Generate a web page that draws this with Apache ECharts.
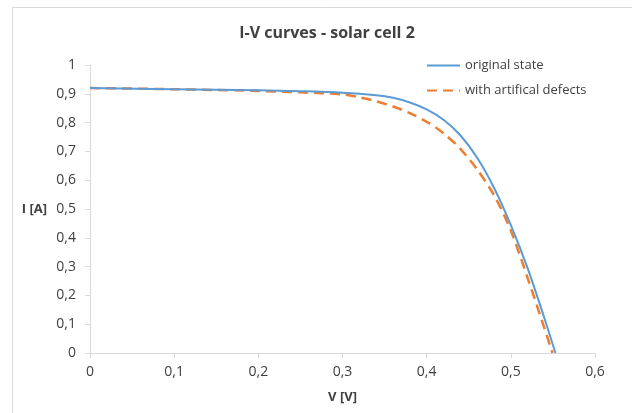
<!DOCTYPE html>
<html>
<head>
<meta charset="utf-8">
<script src="https://cdn.jsdelivr.net/npm/echarts@6/dist/echarts.min.js"></script>
<style>
  html, body { margin: 0; padding: 0; background: #fff; }
  #chart { width: 632px; height: 413px; }
</style>
</head>
<body>
<div id="chart"></div>
<script>
// voltage / current samples
const originalV = [0, 0.1, 0.2, 0.25, 0.3, 0.34, 0.36, 0.38, 0.4, 0.42, 0.44, 0.46, 0.48, 0.5, 0.52, 0.54, 0.553]
const originalI = [0.920, 0.916, 0.912, 0.909, 0.904, 0.895, 0.886, 0.870, 0.846, 0.810, 0.756, 0.678, 0.574, 0.444, 0.294, 0.120, 0]

const defectV = [0, 0.1, 0.2, 0.25, 0.3, 0.32, 0.34, 0.36, 0.38, 0.4, 0.42, 0.44, 0.46, 0.48, 0.5, 0.52, 0.54, 0.5495]
const defectI = [0.920, 0.916, 0.910, 0.905, 0.898, 0.888, 0.874, 0.856, 0.833, 0.803, 0.763, 0.709, 0.637, 0.548, 0.425, 0.260, 0.085, 0]

const seriesNames = ['original state', 'with artifical defects']

const pairs = (xs, ys) => xs.map((x, i) => [x, ys[i]])
const fmt = v => String(Math.round(v * 10) / 10).replace('.', ',')

const chart = echarts.init(document.getElementById('chart'))
const font = 'Open Sans, Liberation Sans, sans-serif'

chart.setOption({
  animation: false,
  textStyle: { fontFamily: font },
  title: {
    text: 'I-V curves - solar cell 2',
    left: 322,
    top: 20,
    textAlign: 'center',
    textStyle: { fontSize: 16, fontWeight: 'bold', color: '#404040', fontFamily: font }
  },
  legend: {
    orient: 'vertical',
    left: 421,
    top: 54,
    itemWidth: 33,
    itemHeight: 10,
    itemGap: 12,
    itemStyle: { opacity: 0 },
    textStyle: { fontSize: 13, color: '#404040' },
    data: seriesNames
  },
  grid: { left: 90, right: 37, top: 65, bottom: 60 },
  xAxis: {
    type: 'value',
    min: 0, max: 0.6, interval: 0.1,
    name: 'V [V]',
    nameLocation: 'middle',
    nameGap: 38,
    nameTextStyle: { fontSize: 13, fontWeight: 'bold', color: '#404040' },
    axisLine: { lineStyle: { color: '#d9d9d9' } },
    axisTick: { show: true, length: 5, lineStyle: { color: '#d9d9d9' } },
    axisLabel: { formatter: fmt, fontSize: 14, color: '#404040', margin: 12 },
    splitLine: { show: false }
  },
  yAxis: {
    type: 'value',
    min: 0, max: 1, interval: 0.1,
    name: 'I [A]',
    nameLocation: 'middle',
    nameRotate: 0,
    nameGap: 43,
    nameTextStyle: { fontSize: 13, fontWeight: 'bold', color: '#404040' },
    axisLine: { show: true, lineStyle: { color: '#d9d9d9' } },
    axisTick: { show: true, length: 5, lineStyle: { color: '#d9d9d9' } },
    axisLabel: { formatter: fmt, fontSize: 14, color: '#404040', margin: 14 },
    splitLine: { show: false }
  },
  graphic: [{
    type: 'rect',
    shape: { x: 12.5, y: 7.5, width: 700, height: 500 },
    style: { fill: 'none', stroke: '#d9d9d9', lineWidth: 1 },
    silent: true
  }],
  series: [
    {
      name: seriesNames[0],
      type: 'line',
      data: pairs(originalV, originalI),
      smooth: 0.3,
      symbol: 'none',
      lineStyle: { color: '#5b9bd5', width: 2 },
      itemStyle: { color: '#5b9bd5' },
      z: 3
    },
    {
      name: seriesNames[1],
      type: 'line',
      data: pairs(defectV, defectI),
      smooth: 0.3,
      symbol: 'none',
      lineStyle: { color: '#ed7d31', width: 2.5, type: [10, 6] },
      itemStyle: { color: '#ed7d31' },
      z: 2
    }
  ]
})
</script>
</body>
</html>
